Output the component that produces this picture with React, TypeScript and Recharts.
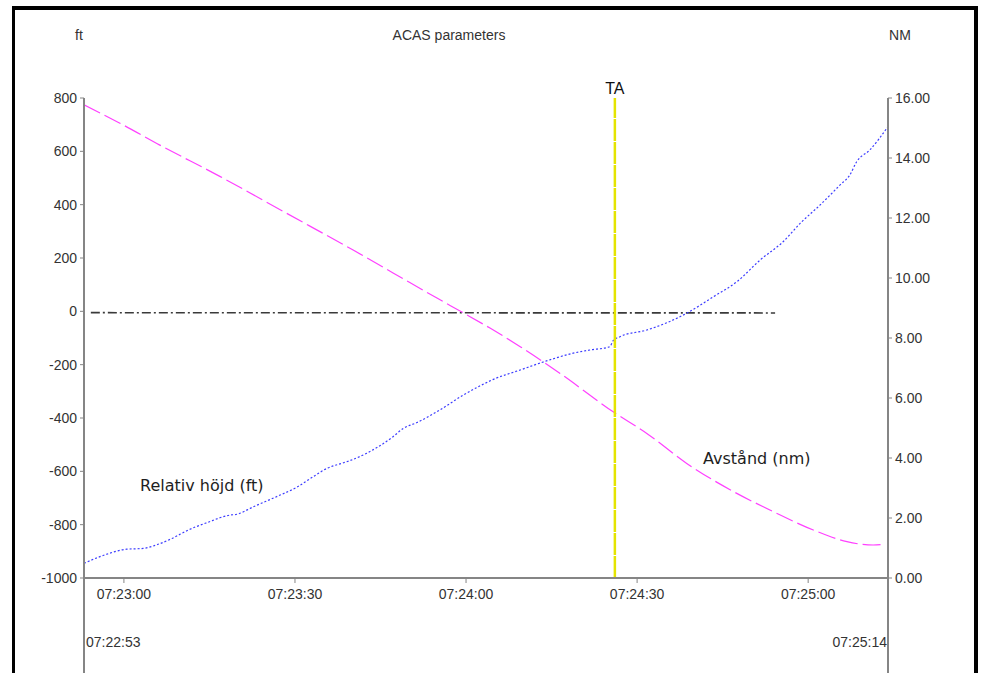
import React from "react";
import { LineChart, Line, XAxis, YAxis, ReferenceLine } from "recharts";

// Time axis: seconds after 07:22:53
const startLabel = "07:22:53";
const endLabel = "07:25:14";
const timeTicks = [7, 37, 67, 97, 127];
const ftTicks = [-1000, -800, -600, -400, -200, 0, 200, 400, 600, 800];
const nmTicks = [0, 2, 4, 6, 8, 10, 12, 14, 16];

// Avstånd (nm) - right axis
const distTimes = [0, 6.3, 13.3, 23.9, 35.5, 47.2, 54.2, 61.9, 66.5, 71.2, 76.5, 83.5, 92.8, 98.7, 105.7, 113.9, 120.9, 127.9, 133.8, 138.4, 140.3];
const distNm = [15.77, 15.16, 14.43, 13.38, 12.16, 10.93, 10.17, 9.33, 8.84, 8.33, 7.71, 6.82, 5.54, 4.82, 3.82, 2.88, 2.21, 1.6, 1.21, 1.1, 1.12];

// Relativ höjd (ft) - left axis
const heightTimes = [0, 2.8, 7.5, 10.4, 12.7, 15.1, 18.6, 21.5, 25.6, 26.8, 29.7, 34.4, 37.3, 40.2, 42.6, 45.5, 46.6, 49.6, 54.2, 56.0, 58.3, 62.4, 66.5, 69.4, 71.8, 76.5, 81.1, 85.8, 88.7, 92.2, 92.8, 94.0, 98.7, 102.2, 105.7, 110.4, 114.5, 118.6, 122.6, 125.6, 129.1, 132.6, 134.3, 135.5, 137.8, 140.9];
const heightFt = [-945, -920, -892, -889, -876, -855, -817, -793, -764, -761, -733, -689, -660, -620, -589, -568, -560, -532, -470, -439, -418, -370, -314, -280, -255, -220, -186, -157, -145, -133, -110, -95, -70, -43, -7, 55, 111, 193, 261, 330, 399, 474, 511, 561, 605, 690];

// Zero reference (dash-dot)
const zeroTimes = [1.2, 121.2];
const zeroFt = [-5, -6];

const taTime = 93.1;

const baseSec = 7 * 3600 + 22 * 60 + 53;
const pad = (n: number) => String(n).padStart(2, "0");
const fmtTime = (t: number) => {
  const s = baseSec + Math.round(t);
  return `${pad(Math.floor(s / 3600))}:${pad(Math.floor((s % 3600) / 60))}:${pad(s % 60)}`;
};

const distData = distTimes.map((t, i) => ({ t, v: distNm[i] }));
const heightData = heightTimes.map((t, i) => ({ t, v: heightFt[i] }));
const zeroData = zeroTimes.map((t, i) => ({ t, v: zeroFt[i] }));

const small = { fontFamily: "Liberation Sans, Arial, sans-serif", fontSize: 14, fill: "#333" };
const big = { fontFamily: "DejaVu Sans, sans-serif", fontSize: 16, fill: "#1e1e1e" };
const axisGray = "#858585";

export default function App() {
  return (
    <div style={{ position: "absolute", left: 0, top: 0, width: 983, height: 673, background: "#fff" }}>
      <LineChart width={983} height={673} margin={{ top: 98, right: 0, bottom: 65, left: 0 }}>
        <XAxis
          xAxisId={0}
          type="number"
          dataKey="t"
          domain={[0, 141]}
          ticks={timeTicks}
          tickFormatter={fmtTime}
          allowDataOverflow
          height={30}
          axisLine={{ stroke: axisGray, strokeWidth: 2 }}
          tickLine={{ stroke: axisGray }}
          tickSize={5}
          tickMargin={6}
          tick={{ ...small }}
        />
        <YAxis
          yAxisId="left"
          orientation="left"
          domain={[-1000, 800]}
          ticks={ftTicks}
          width={84}
          allowDataOverflow
          axisLine={{ stroke: axisGray, strokeWidth: 2 }}
          tickLine={{ stroke: axisGray }}
          tickSize={4}
          tickMargin={3}
          tick={{ ...small }}
        />
        <YAxis
          yAxisId="right"
          orientation="right"
          domain={[0, 16]}
          ticks={nmTicks}
          width={95}
          allowDataOverflow
          tickFormatter={(v: number) => v.toFixed(2)}
          axisLine={{ stroke: axisGray, strokeWidth: 2 }}
          tickLine={{ stroke: axisGray }}
          tickSize={4}
          tickMargin={3}
          tick={{ ...small }}
        />
        <Line
          yAxisId="left"
          data={zeroData}
          dataKey="v"
          type="linear"
          stroke="#3a3a3a"
          strokeWidth={1.6}
          strokeDasharray="9 3 2 3"
          dot={false}
          isAnimationActive={false}
        />
        <Line
          yAxisId="right"
          data={distData}
          dataKey="v"
          type="monotone"
          stroke="#ff40ff"
          strokeWidth={1.2}
          strokeDasharray="18 5"
          dot={false}
          isAnimationActive={false}
        />
        <Line
          yAxisId="left"
          data={heightData}
          dataKey="v"
          type="monotone"
          stroke="#3c3cff"
          strokeWidth={1.2}
          strokeDasharray="2 2"
          dot={false}
          isAnimationActive={false}
        />
        <ReferenceLine
          yAxisId="left"
          x={taTime}
          stroke="#e4e400"
          strokeWidth={2.5}
          strokeDasharray="22 1"
          label={{ value: "TA", position: "top", offset: 4, fill: "#111", fontSize: 16, fontFamily: "Liberation Sans, Arial, sans-serif" }}
        />
      </LineChart>
      <svg width={983} height={673} style={{ position: "absolute", left: 0, top: 0, pointerEvents: "none" }}>
        <rect x={12} y={6} width={966} height={4} fill="#000" />
        <rect x={12} y={6} width={3} height={667} fill="#000" />
        <rect x={974} y={6} width={4} height={667} fill="#000" />
        <line x1={84} y1={578} x2={84} y2={673} stroke={axisGray} strokeWidth={2} />
        <line x1={888} y1={578} x2={888} y2={673} stroke={axisGray} strokeWidth={2} />
        <text x={79} y={40} textAnchor="middle" {...small}>ft</text>
        <text x={449} y={40} textAnchor="middle" {...small}>ACAS parameters</text>
        <text x={900} y={40} textAnchor="middle" {...small}>NM</text>
        <text x={86} y={647} textAnchor="start" {...small}>{startLabel}</text>
        <text x={887} y={647} textAnchor="end" {...small}>{endLabel}</text>
        <text x={140} y={491} {...big}>Relativ höjd (ft)</text>
        <text x={703} y={464} {...big}>Avstånd (nm)</text>
      </svg>
    </div>
  );
}
